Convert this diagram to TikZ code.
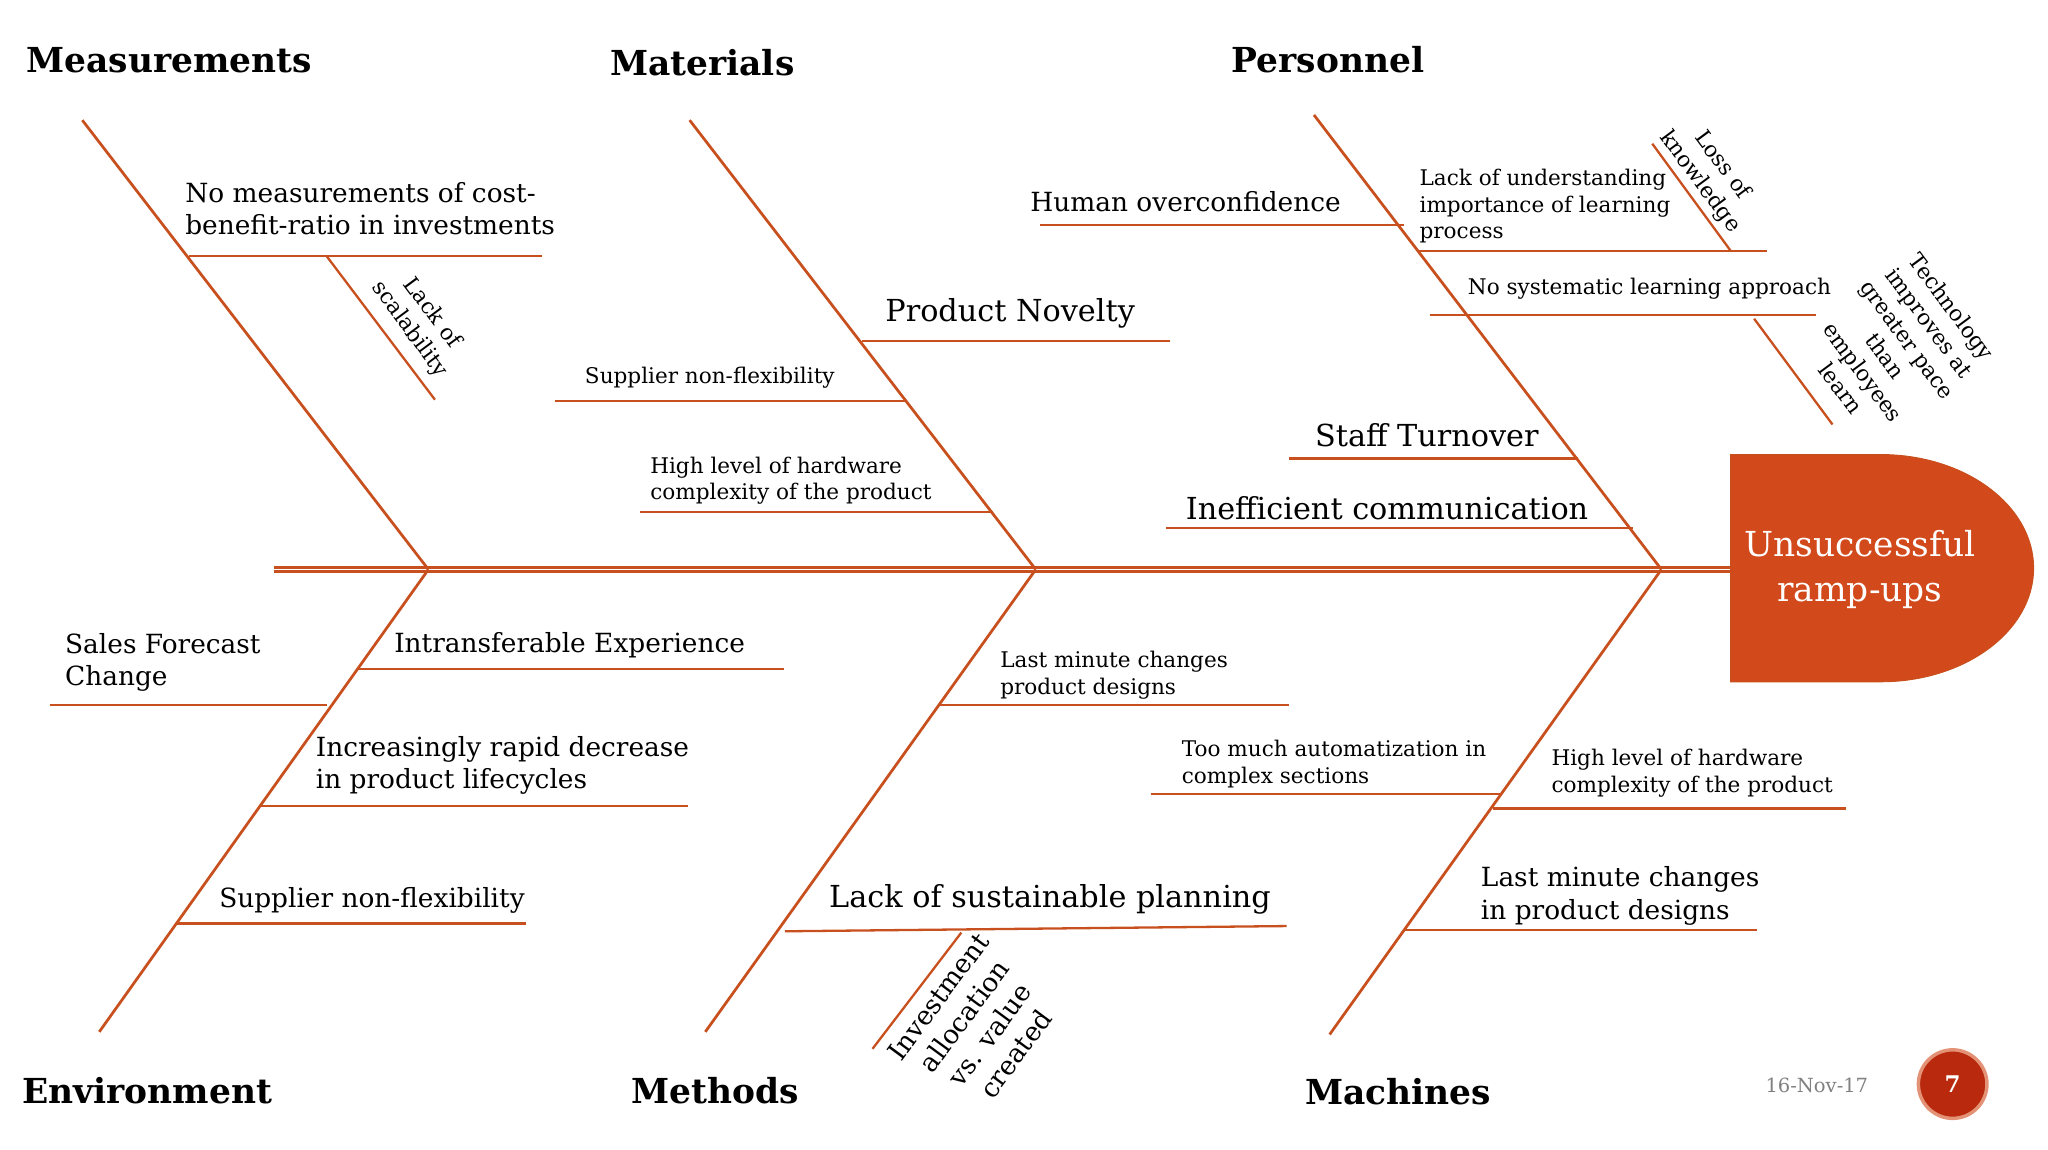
\documentclass[tikz,border=0pt]{standalone}
\usepackage{fontspec}
\setmainfont{DejaVu Serif}
\definecolor{bone}{HTML}{C8501E}
\definecolor{headc}{HTML}{D2491B}
\definecolor{badge}{HTML}{B8290E}
\begin{document}
\begin{tikzpicture}[x=0.02cm,y=-0.02cm,
 bn/.style={draw=bone,line width=1.2pt},
 br/.style={draw=bone,line width=1pt},
 title/.style={font=\fontsize{15}{18}\selectfont\bfseries,anchor=west},
 lbA/.style={font=\fontsize{13.2}{15}\selectfont,anchor=south west,align=left,inner sep=2pt},
 lbB/.style={font=\fontsize{11.5}{14}\selectfont,anchor=south west,align=left,inner sep=2pt},
 lbC/.style={font=\fontsize{9.4}{11.5}\selectfont,anchor=south west,align=left,inner sep=2pt},
 rot/.style={font=\fontsize{9.5}{12}\selectfont,align=center,inner sep=1pt}]
\useasboundingbox (0,0) rectangle (1568,880);
% spine
\draw[bn] (210,434.5) -- (1325,434.5);
\draw[bn] (210,437.5) -- (1325,437.5);
% head
\fill[headc,draw=bone] (1325,348) -- (1440,348) arc[start angle=-90,end angle=90,x radius=117,y radius=87] -- (1325,522) -- cycle;
\node[text=white,font=\fontsize{15}{20}\selectfont,align=center] (headtxt) at (1424,436) {Unsuccessful\\ramp-ups};
% main bones
\coordinate (m0) at (63,92); \coordinate (m1) at (328,436);
\coordinate (a0) at (528,92); \coordinate (a1) at (793,436);
\coordinate (p0) at (1006,88); \coordinate (p1) at (1272,436);
\coordinate (e0) at (76,790);
\coordinate (t0) at (540,790);
\coordinate (c0) at (1018,792);
\draw[bn] (m0)--(m1); \draw[bn] (a0)--(a1); \draw[bn] (p0)--(p1);
\draw[bn] (m1)--(e0); \draw[bn] (a1)--(t0); \draw[bn] (p1)--(c0);
% titles
\node[title] (tM) at (14,46) {Measurements};
\node[title] (tA) at (461,48) {Materials};
\node[title] (tP) at (937,46) {Personnel};
\node[title] (tE) at (11,835) {Environment};
\node[title] (tT) at (477,835) {Methods};
\node[title] (tC) at (993,836) {Machines};
% Measurements
\draw[br] (145,196) -- (415,196);
\node[lbB] (l1) at (138,184) {No measurements of cost-\\benefit-ratio in investments};
\draw[br] (250,196) -- (333,306);
\node[rot,rotate=-53.5] (r1) at (322,246) {Lack of\\scalability};
% Materials
\draw[br] (660,261) -- (896,261);
\node[lbA] (l2) at (674,255) {Product Novelty};
\draw[br] (425,307) -- (694,307);
\node[lbC] (l3) at (444,301) {Supplier non-flexibility};
\draw[br] (490,392) -- (760,392);
\node[lbC] (l4) at (494,390) {High level of hardware\\complexity of the product};
% Personnel
\draw[br] (796,172) -- (1075,172);
\node[lbB] (l5) at (785,166) {Human overconfidence};
\draw[br] (1085,192) -- (1353,192);
\node[lbC] (l6) at (1083,190) {Lack of understanding\\importance of learning\\process};
\draw[br] (1265,110) -- (1325,192);
\node[rot,rotate=-53.5] (r2) at (1310,133) {Loss of\\knowledge};
\draw[br] (1095,241) -- (1390,241);
\node[lbC] (l7) at (1120,233) {No systematic learning approach};
\draw[br] (1343,244) -- (1403,325);
\node[rot,rotate=-53.5] (r3) at (1452,266) {Technology\\improves at\\greater pace\\than\\employees\\learn};
\draw[br] (987,351) -- (1208,351);
\node[lbA] (l8) at (1003,346) {Staff Turnover};
\draw[br] (893,404) -- (1250,404);
\node[lbA] (l9) at (904,402) {Inefficient communication};
% Environment
\draw[br] (273,512) -- (600,512);
\node[lbB] (l10) at (298,508) {Intransferable Experience};
\draw[br] (38,540) -- (250,540);
\node[lbB] (l11) at (46,533) {Sales Forecast\\Change};
\draw[br] (200,617) -- (527,617);
\node[lbB] (l12) at (238,612) {Increasingly rapid decrease\\in product lifecycles};
\draw[br] (135,707) -- (403,707);
\node[lbB] (l13) at (164,703) {Supplier non-flexibility};
% Methods
\draw[br] (718,540) -- (987,540);
\node[lbC] (l14) at (762,539) {Last minute changes\\product designs};
\draw[br] (601,713) -- (985,709);
\node[lbA] (l15) at (631,704) {Lack of sustainable planning};
\draw[br] (736,714) -- (668,803);
\node[rot,rotate=53.5,font=\fontsize{11.5}{14}\selectfont] (r4) at (748,785) {Investment\\allocation\\vs. value\\created};
% Machines
\draw[br] (881,608) -- (1150,608);
\node[lbC] (l16) at (901,607) {Too much automatization in\\complex sections};
\draw[br] (1143,619) -- (1413,619);
\node[lbC] (l17) at (1184,614) {High level of hardware\\complexity of the product};
\draw[br] (1075,712) -- (1345,712);
\node[lbB] (l18) at (1130,712) {Last minute changes\\in product designs};
% footer
\node[font=\fontsize{8.5}{10}\selectfont,text=gray] (date) at (1391,831) {16-Nov-17};
\node[circle,fill=badge,draw=headc!60,line width=1.5pt,minimum size=1.05cm,inner sep=0pt,text=white,font=\bfseries] (pg) at (1495,830) {7};
\end{tikzpicture}
\end{document}
